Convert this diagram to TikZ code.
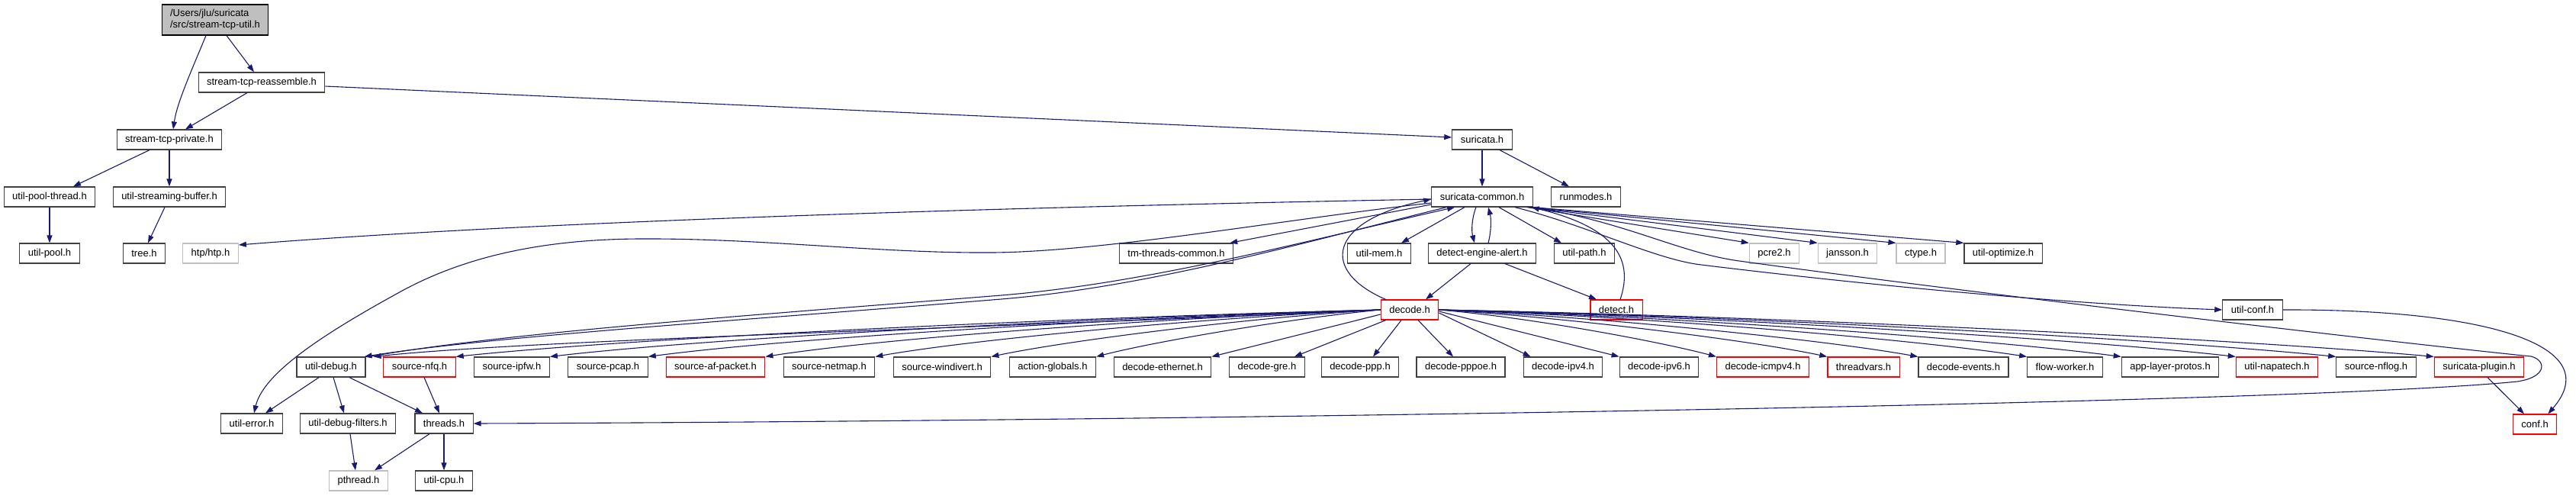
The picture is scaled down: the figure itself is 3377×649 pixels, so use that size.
\documentclass[tikz,border=0pt]{standalone}
\usepackage{fontspec}
\setmainfont{Liberation Sans}
\usepackage{tikz}
\usetikzlibrary{arrows.meta,calc}
\definecolor{midblue}{RGB}{25,25,112}
\definecolor{boxline}{RGB}{64,64,64}
\definecolor{sysline}{RGB}{191,191,191}
\definecolor{rootfill}{RGB}{191,191,191}
\definecolor{cutline}{RGB}{255,0,0}

\begin{document}
\begin{tikzpicture}[x=1pt,y=-1pt,font=\fontsize{13}{15}\selectfont]
\tikzset{f/.style={draw=boxline,line width=1.2pt,fill=white,minimum height=26pt,inner xsep=11pt,inner ysep=0pt},
  fr/.style={f,draw=cutline},
  fg/.style={f,draw=sysline},
  dep/.style={draw=midblue,line width=1.1pt,-{Triangle[length=10pt,width=7pt]}}}
\useasboundingbox (0,0) rectangle (3377,649);
% top chain
\node[f,fill=rootfill,draw=black,align=left,minimum height=40pt] (util) at (282,26) {/Users/jlu/suricata\\/src/stream-tcp-util.h};
\node[f] (reass) at (343,108) {stream-tcp-reassemble.h};
\node[f] (priv) at (222,183) {stream-tcp-private.h};
\node[f] (pthr) at (65,258) {util-pool-thread.h};
\node[f] (sbuf) at (222,258) {util-streaming-buffer.h};
\node[f] (pool) at (65,332) {util-pool.h};
\node[f] (tree) at (189,332) {tree.h};
\node[fg] (htp) at (276,332) {htp/htp.h};
% suricata headers
\node[f] (suri) at (1943,183) {suricata.h};
\node[f] (common) at (1943,258) {suricata-common.h};
\node[f] (runm) at (2079,258) {runmodes.h};
\node[f] (tmtc) at (1542,332) {tm-threads-common.h};
\node[f] (umem) at (1808,332) {util-mem.h};
\node[f] (dea) at (1943,332) {detect-engine-alert.h};
\node[f] (upath) at (2077,332) {util-path.h};
\node[fg] (pcre) at (2326,332) {pcre2.h};
\node[fg] (jans) at (2422,332) {jansson.h};
\node[fg] (ctype) at (2518,332) {ctype.h};
\node[f] (uopt) at (2626,332) {util-optimize.h};
\node[fr] (decode) at (1848,406) {decode.h};
\node[fr] (detect) at (2119,406) {detect.h};
\node[f] (uconf) at (2953,406) {util-conf.h};
% decode.h row
\node[f] (udbg) at (434,481) {util-debug.h};
\node[fr] (nfq) at (550,481) {source-nfq.h};
\node[f] (ipfw) at (671,481) {source-ipfw.h};
\node[f] (pcap) at (797,481) {source-pcap.h};
\node[fr] (afp) at (938,481) {source-af-packet.h};
\node[f] (netmap) at (1087,481) {source-netmap.h};
\node[f] (windiv) at (1235,481) {source-windivert.h};
\node[f] (actg) at (1380,481) {action-globals.h};
\node[f] (deth) at (1524,481) {decode-ethernet.h};
\node[f] (dgre) at (1661,481) {decode-gre.h};
\node[f] (dppp) at (1783,481) {decode-ppp.h};
\node[f] (dpppoe) at (1915,481) {decode-pppoe.h};
\node[f] (dipv4) at (2049,481) {decode-ipv4.h};
\node[f] (dipv6) at (2175,481) {decode-ipv6.h};
\node[fr] (dicmp) at (2311,481) {decode-icmpv4.h};
\node[fr] (tvars) at (2443,481) {threadvars.h};
\node[f] (devents) at (2574,481) {decode-events.h};
\node[f] (fworker) at (2707,481) {flow-worker.h};
\node[f] (alproto) at (2845,481) {app-layer-protos.h};
\node[fr] (napa) at (2985,481) {util-napatech.h};
\node[f] (nflog) at (3115,481) {source-nflog.h};
\node[fr] (plugin) at (3250,481) {suricata-plugin.h};
% bottom rows
\node[f] (uerr) at (330,555) {util-error.h};
\node[f] (udf) at (456,555) {util-debug-filters.h};
\node[f] (thr) at (582,555) {threads.h};
\node[fr] (conf) at (3323,556) {conf.h};
\node[fg] (pth) at (470,630) {pthread.h};
\node[f] (ucpu) at (582,630) {util-cpu.h};
% stream-tcp edges
\draw[dep] ($(util.south)+(-12,0)$) .. controls (250,95) and (232,135) .. ($(priv.north)+(5,0)$);
\draw[dep] ($(util.south)+(15,0)$) -- ($(reass.north)+(-10,0)$);
\draw[dep] ($(reass.south)+(-19,0)$) -- ($(priv.north)+(21,0)$);
\draw[dep] ($(reass.east)+(0,5)$) -- ($(suri.west)+(0,-3)$);
\draw[dep] ($(priv.south)+(-26,0)$) -- ($(pthr.north)+(31,0)$);
\draw[dep] (priv) -- (sbuf);
\draw[dep] (pthr) -- (pool);
\draw[dep] ($(sbuf.south)+(-6,0)$) -- ($(tree.north)+(5,0)$);
% suricata.h and suricata-common.h
\draw[dep] (suri) -- (common);
\draw[dep] ($(suri.south)+(23,0)$) -- ($(runm.north)+(-22,0)$);
\draw[dep] ($(common.west)+(0,3)$) .. controls (1300,272) and (700,290) .. ($(htp.east)+(0,-11)$);
\draw[dep] ($(common.west)+(0,8)$) .. controls (1700,285) and (1450,330) .. (1300,331)
  .. controls (1150,332) and (1000,312) .. (837,313) .. controls (700,314) and (600,340) .. (520,385)
  .. controls (420,440) and (345,490) .. ($(uerr.north)+(3,0)$);
\draw[dep] ($(common.west)+(0,10)$) -- ($(tmtc.north east)+(-5,0)$);
\draw[dep] ($(common.south)+(-23,0)$) -- ($(umem.north)+(29,0)$);
\draw[dep] ($(common.south)+(-8,0)$) .. controls (1929,287) and (1929,303) .. ($(dea.north)+(-10,0)$);
\draw[dep] ($(dea.north)+(8,0)$) .. controls (1955,303) and (1955,287) .. ($(common.south)+(8,0)$);
\draw[dep] ($(common.south)+(22,0)$) -- ($(upath.north)+(-30,0)$);
\draw[dep] ($(common.south east)+(-8,0)$) -- (pcre.north west);
\draw[dep] ($(common.south east)+(-5,0)$) -- (jans.north west);
\draw[dep] ($(common.south east)+(-3,0)$) -- (ctype.north west);
\draw[dep] ($(common.south east)+(-1,0)$) -- (uopt.north west);
\draw[dep] ($(common.south east)+(-24,0)$) .. controls (2080,295) and (2170,340) .. (2230,347)
  .. controls (2500,380) and (2750,400) .. (uconf.west);
\draw[dep] ($(common.south east)+(-2,0)$) .. controls (2130,290) and (2200,331) .. (2280,342)
  .. controls (2600,386) and (3150,450) .. (3318,467) .. controls (3338,472) and (3340,494) .. (3300,500)
  .. controls (3000,530) and (1500,552) .. (thr.east);
\draw[dep] ($(common.south west)+(20,0)$) .. controls (1700,320) and (1500,378) .. (1300,393)
  .. controls (1000,418) and (650,440) .. ($(udbg.north east)+(-2,0)$);
\draw[dep] ($(udbg.north east)+(4,0)$) .. controls (660,436) and (1000,412) .. (1300,388)
  .. controls (1500,373) and (1710,316) .. ($(common.south west)+(31,0)$);
% detect-engine-alert.h, detect.h, decode.h
\draw[dep] ($(dea.south)+(-15,0)$) -- ($(decode.north)+(21,0)$);
\draw[dep] ($(dea.south)+(30,0)$) -- ($(detect.north)+(-26,0)$);
\draw[dep] ($(decode.north west)+(7,0)$) .. controls (1730,355) and (1740,290) .. ($(common.west)+(0,3)$);
\draw[dep] ($(detect.north)+(5,0)$) .. controls (2140,345) and (2125,300) .. ($(common.south east)+(-2,0)$);
% decode.h fan to the left
\draw[dep] (decode.west) .. controls (1300,430) and (700,445) .. ($(udbg.north east)+(10,0)$);
\draw[dep] (decode.west) .. controls (1406,416) and (840,442) .. (nfq.north east);
\draw[dep] (decode.west) .. controls (1448,416) and (939,442) .. (ipfw.north east);
\draw[dep] (decode.west) .. controls (1490,416) and (1041,442) .. (pcap.north east);
\draw[dep] (decode.west) .. controls (1542,416) and (1165,442) .. (afp.north east);
\draw[dep] (decode.west) .. controls (1589,416) and (1279,444) .. (netmap.north east);
\draw[dep] (decode.west) .. controls (1640,416) and (1401,446) .. (windiv.north east);
\draw[dep] (decode.west) .. controls (1686,418) and (1512,448) .. (actg.north east);
\draw[dep] ($(decode.west)+(0,6)$) -- (deth.north east);
\draw[dep] ($(decode.south west)+(7,0)$) -- ($(dgre.north east)+(-14,0)$);
\draw[dep] ($(decode.south)+(-11,0)$) -- ($(dppp.north)+(17,0)$);
\draw[dep] ($(decode.south)+(11,0)$) -- ($(dpppoe.north)+(-10,0)$);
% decode.h fan to the right
\draw[dep] ($(decode.east)+(0,4)$) -- ($(dipv4.north west)+(10,0)$);
\draw[dep] ($(decode.east)+(0,2)$) -- (dipv6.north west);
\draw[dep] (decode.east) .. controls (2007,416) and (2177,448) .. (dicmp.north west);
\draw[dep] (decode.east) .. controls (2056,416) and (2294,446) .. (tvars.north west);
\draw[dep] (decode.east) .. controls (2096,415) and (2389,445) .. (devents.north west);
\draw[dep] (decode.east) .. controls (2143,414) and (2504,444) .. (fworker.north west);
\draw[dep] (decode.east) .. controls (2184,414) and (2602,444) .. (alproto.north west);
\draw[dep] (decode.east) .. controls (2235,414) and (2723,444) .. (napa.north west);
\draw[dep] (decode.east) .. controls (2278,414) and (2828,444) .. (nflog.north west);
\draw[dep] (decode.east) .. controls (2321,414) and (2931,444) .. (plugin.north west);
% lower includes
\draw[dep] ($(udbg.south)+(-16,0)$) -- ($(uerr.north)+(18,0)$);
\draw[dep] ($(udbg.south)+(3,0)$) -- ($(udf.north)+(-5,0)$);
\draw[dep] ($(udbg.south)+(24,0)$) -- ($(thr.north)+(-28,0)$);
\draw[dep] ($(nfq.south)+(6,0)$) -- ($(thr.north)+(-6,0)$);
\draw[dep] ($(udf.south)+(3,0)$) -- ($(pth.north)+(-4,0)$);
\draw[dep] ($(thr.south)+(-19,0)$) -- ($(pth.north)+(21,0)$);
\draw[dep] (thr) -- (ucpu);
\draw[dep] ($(plugin.south)+(11,0)$) -- ($(conf.north)+(-14,0)$);
\draw[dep] (uconf.east) .. controls (3250,405) and (3420,450) .. ($(conf.north east)+(-12,0)$);
\end{tikzpicture}
\end{document}
